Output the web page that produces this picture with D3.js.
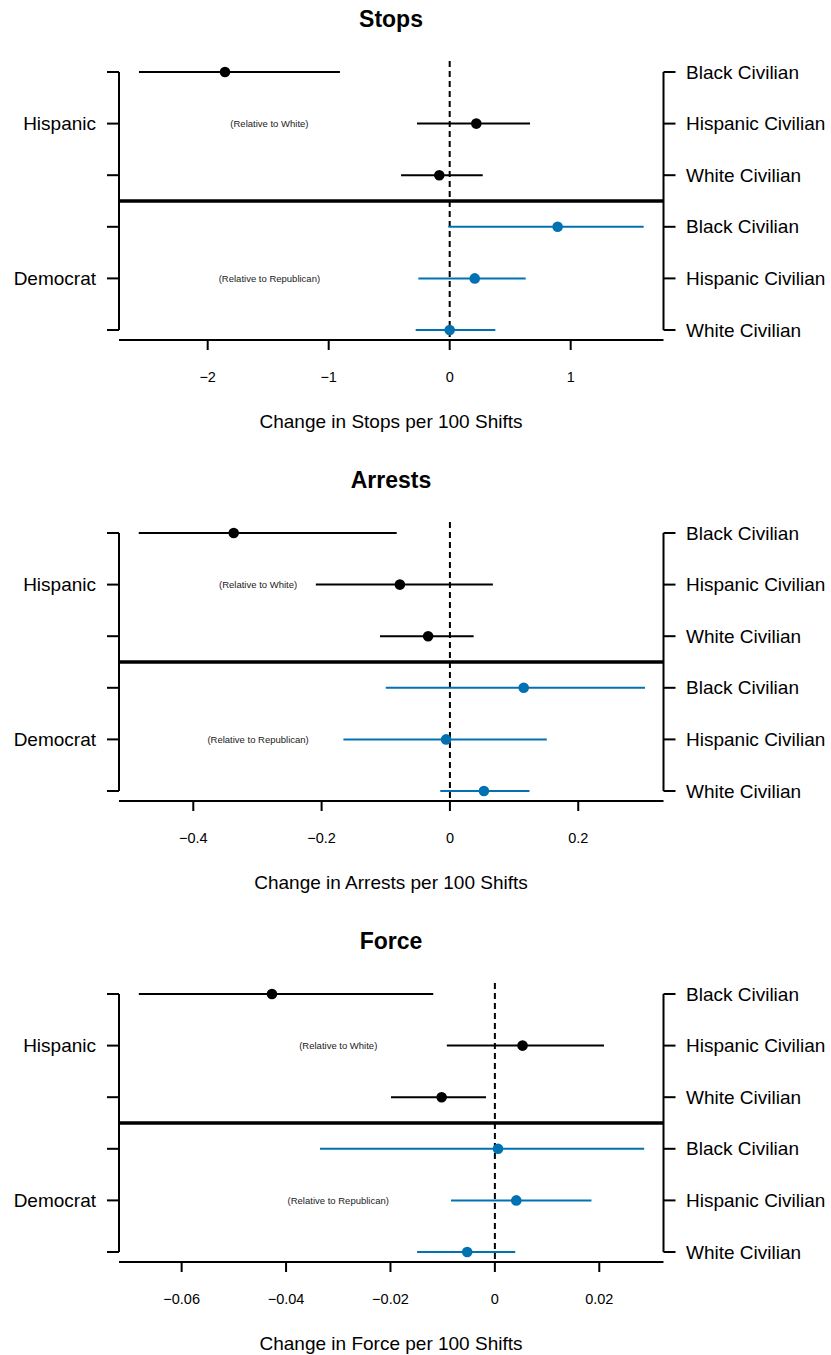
<!DOCTYPE html>
<html>
<head>
<meta charset="utf-8">
<script src="https://cdn.jsdelivr.net/npm/d3@7"></script>
<style>
  html, body { margin: 0; padding: 0; background: #fff; }
  svg { display: block; font-family: "Liberation Sans", Arial, Helvetica, sans-serif; }
</style>
</head>
<body>
<svg id="chart" width="831" height="1355"></svg>
<script>
// ---- data ----
const rowLabels = ["Black Civilian", "Hispanic Civilian", "White Civilian",
                   "Black Civilian", "Hispanic Civilian", "White Civilian"];
const rowGroup = ["Hispanic", "Hispanic", "Hispanic", "Democrat", "Democrat", "Democrat"];
const groupLabels = ["Hispanic", "Democrat"];
const groupNotes = ["(Relative to White)", "(Relative to Republican)"];

const panelTitles = ["Stops", "Arrests", "Force"];
const axisTitles = ["Change in Stops per 100 Shifts", "Change in Arrests per 100 Shifts",
                    "Change in Force per 100 Shifts"];

const stopsEst = [-1.857, 0.220, -0.086, 0.892, 0.207, 0.000];
const stopsLo  = [-2.568, -0.270, -0.402, -0.011, -0.259, -0.281];
const stopsHi  = [-0.907, 0.664, 0.273, 1.603, 0.628, 0.377];
const stopsTicks = [-2, -1, 0, 1];
const stopsTickLabels = ["\u22122", "\u22121", "0", "1"];
const stopsDomain = [-2.733, 1.767];
const stopsNoteX = -1.49;

const arrestsEst = [-0.337, -0.078, -0.034, 0.115, -0.006, 0.053];
const arrestsLo  = [-0.485, -0.209, -0.109, -0.100, -0.166, -0.015];
const arrestsHi  = [-0.083, 0.067, 0.037, 0.304, 0.151, 0.124];
const arrestsTicks = [-0.4, -0.2, 0, 0.2];
const arrestsTickLabels = ["\u22120.4", "\u22120.2", "0", "0.2"];
const arrestsDomain = [-0.5158, 0.3329];
const arrestsNoteX = -0.299;

const forceEst = [-0.0427, 0.0053, -0.0102, 0.0006, 0.0041, -0.0053];
const forceLo  = [-0.0682, -0.0092, -0.0199, -0.0335, -0.0084, -0.0149];
const forceHi  = [-0.0118, 0.0209, -0.0017, 0.0286, 0.0185, 0.0039];
const forceTicks = [-0.06, -0.04, -0.02, 0, 0.02];
const forceTickLabels = ["\u22120.06", "\u22120.04", "\u22120.02", "0", "0.02"];
const forceDomain = [-0.0720, 0.0323];
const forceNoteX = -0.0300;

const groupColors = ["#000000", "#0072B2"];

// ---- build panels ----
const panels = [
  {est: stopsEst, lo: stopsLo, hi: stopsHi, ticks: stopsTicks, tickLabels: stopsTickLabels, domain: stopsDomain, noteX: stopsNoteX},
  {est: arrestsEst, lo: arrestsLo, hi: arrestsHi, ticks: arrestsTicks, tickLabels: arrestsTickLabels, domain: arrestsDomain, noteX: arrestsNoteX},
  {est: forceEst, lo: forceLo, hi: forceHi, ticks: forceTicks, tickLabels: forceTickLabels, domain: forceDomain, noteX: forceNoteX}
].map((p, i) => Object.assign(p, {title: panelTitles[i], xlab: axisTitles[i]}));

const svg = d3.select("#chart");
const L = 119, R = 663.5;
const panelStep = 461;

panels.forEach((p, pi) => {
  const off = pi * panelStep;
  const g = svg.append("g").attr("transform", `translate(0,${off})`);
  const x = d3.scaleLinear().domain(p.domain).range([L, R]);
  const y = d3.scalePoint().domain(d3.range(6)).range([72, 330]);
  const plotTop = 61, plotBottom = 340;

  // title
  g.append("text").attr("x", 391).attr("y", 19)
    .attr("text-anchor", "middle").attr("dominant-baseline", "central")
    .attr("font-size", 23).attr("font-weight", "bold").text(p.title);

  // dashed zero line
  g.append("line").attr("x1", x(0)).attr("x2", x(0))
    .attr("y1", plotTop).attr("y2", plotBottom)
    .attr("stroke", "#000").attr("stroke-width", 2).attr("stroke-dasharray", "6,4");

  // divider line
  const divY = (y(2) + y(3)) / 2;
  g.append("line").attr("x1", L).attr("x2", R).attr("y1", divY).attr("y2", divY)
    .attr("stroke", "#000").attr("stroke-width", 3.5);

  // left axis (groups)
  g.append("line").attr("x1", L).attr("x2", L).attr("y1", y(0)).attr("y2", y(5))
    .attr("stroke", "#000").attr("stroke-width", 2);
  g.selectAll(".ltick").data(d3.range(6)).enter().append("line")
    .attr("x1", L - 12).attr("x2", L).attr("y1", d => y(d)).attr("y2", d => y(d))
    .attr("stroke", "#000").attr("stroke-width", 2);
  groupLabels.forEach((lab, gi) => {
    const yy = y(gi * 3 + 1);
    g.append("text").attr("x", 96).attr("y", yy)
      .attr("text-anchor", "end").attr("dominant-baseline", "central")
      .attr("font-size", 19).text(lab);
    g.append("text").attr("x", x(p.noteX)).attr("y", yy)
      .attr("text-anchor", "middle").attr("dominant-baseline", "central")
      .attr("font-size", 9.5).attr("fill", "#222").text(groupNotes[gi]);
  });

  // right axis (rows)
  g.append("line").attr("x1", R).attr("x2", R).attr("y1", y(0)).attr("y2", y(5))
    .attr("stroke", "#000").attr("stroke-width", 2);
  g.selectAll(".rtick").data(d3.range(6)).enter().append("line")
    .attr("x1", R).attr("x2", R + 12).attr("y1", d => y(d)).attr("y2", d => y(d))
    .attr("stroke", "#000").attr("stroke-width", 2);
  g.selectAll(".rlab").data(rowLabels).enter().append("text")
    .attr("x", 686).attr("y", (d, i) => y(i))
    .attr("dominant-baseline", "central").attr("font-size", 19).text(d => d);

  // x axis
  g.append("line").attr("x1", L).attr("x2", R).attr("y1", plotBottom).attr("y2", plotBottom)
    .attr("stroke", "#000").attr("stroke-width", 2);
  g.selectAll(".xtick").data(p.ticks).enter().append("line")
    .attr("x1", d => x(d)).attr("x2", d => x(d))
    .attr("y1", plotBottom).attr("y2", plotBottom + 10)
    .attr("stroke", "#000").attr("stroke-width", 2);
  g.selectAll(".xlab").data(p.ticks).enter().append("text")
    .attr("x", d => x(d)).attr("y", 377)
    .attr("text-anchor", "middle").attr("dominant-baseline", "central")
    .attr("font-size", 14.5).text((d, i) => p.tickLabels[i]);
  g.append("text").attr("x", 391).attr("y", 421)
    .attr("text-anchor", "middle").attr("dominant-baseline", "central")
    .attr("font-size", 19).text(p.xlab);

  // CIs and points
  const rows = d3.range(6).map(i => ({i, est: p.est[i], lo: p.lo[i], hi: p.hi[i],
    color: groupColors[rowGroup[i] === "Hispanic" ? 0 : 1]}));
  g.selectAll(".ci").data(rows).enter().append("line")
    .attr("x1", d => x(d.lo)).attr("x2", d => x(d.hi))
    .attr("y1", d => y(d.i)).attr("y2", d => y(d.i))
    .attr("stroke", d => d.color).attr("stroke-width", 2);
  g.selectAll(".pt").data(rows).enter().append("circle")
    .attr("cx", d => x(d.est)).attr("cy", d => y(d.i)).attr("r", 5.3)
    .attr("fill", d => d.color);
});
</script>
</body>
</html>
